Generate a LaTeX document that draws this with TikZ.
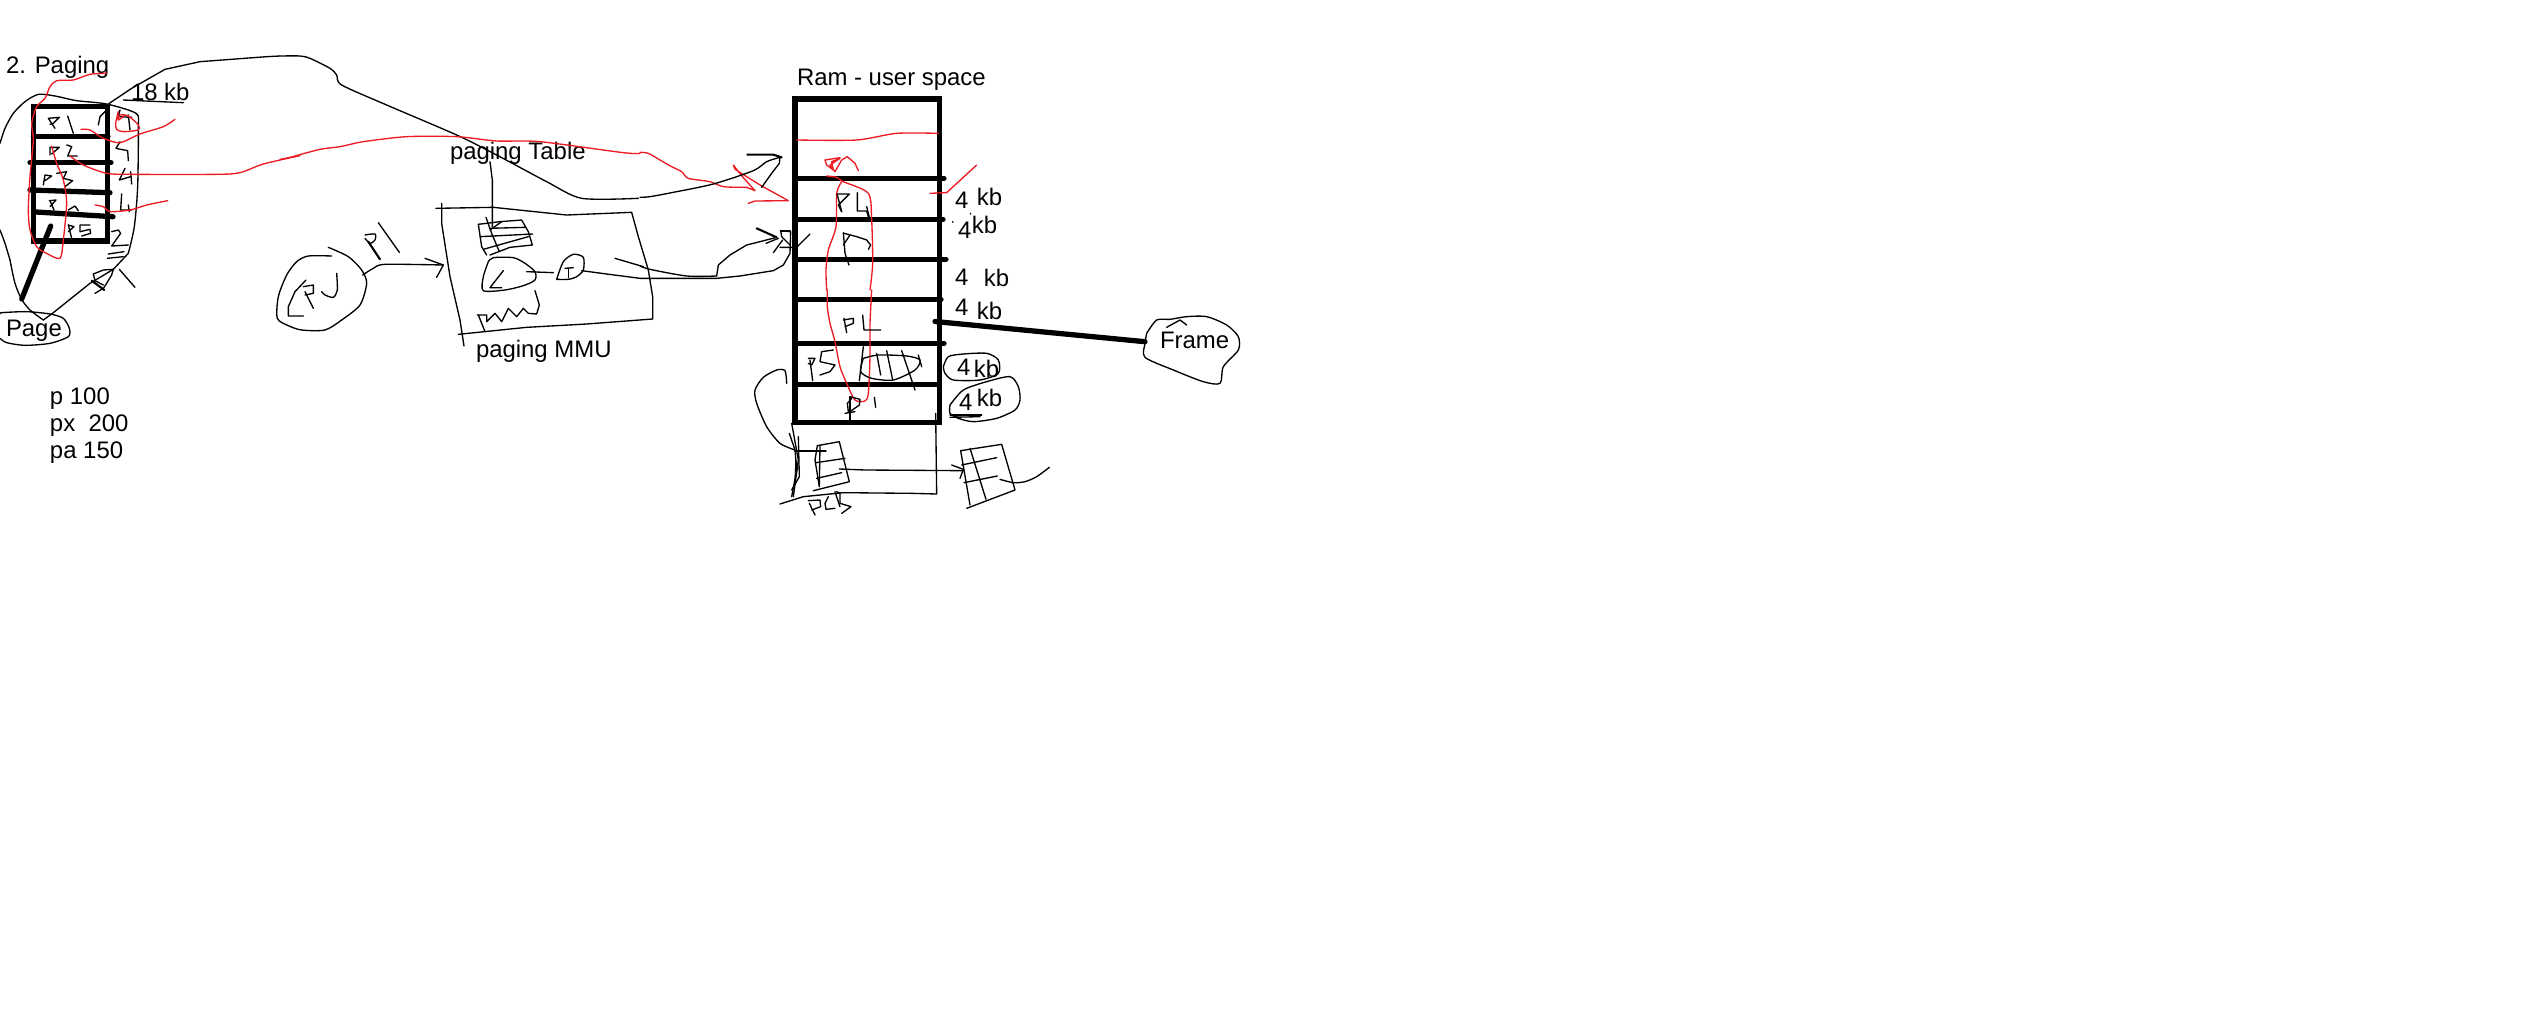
\documentclass[tikz,border=0pt]{standalone}
\usepackage{fontspec}
\setmainfont{Liberation Sans}
\definecolor{pred}{HTML}{ED1C24}
\newlength\pxu
\setlength\pxu{0.2845pt}
\newcommand\fk[2]{4 \kern#1\pxu\raisebox{#2\pxu}{kb}}
\newcommand\pl[2][pen]{\draw[#1] plot coordinates {#2};}
\newcommand\cv[2][pen]{\draw[#1] plot[smooth,tension=.45] coordinates {#2};}
\tikzset{
  pen/.style={draw=black,line width=0.38pt,line join=round,line cap=round},
  redpen/.style={draw=pred,line width=0.38pt,line join=round,line cap=round},
  midpen/.style={draw=black,line width=0.6pt,line join=round,line cap=round},
  heavy/.style={draw=black,line width=1.5pt,line cap=round},
  heavybox/.style={draw=black,line width=1.5pt,line join=miter},
  lbl/.style={anchor=base west,inner sep=0pt,outer sep=0pt,text=black,font=\fontsize{6.8pt}{8pt}\selectfont},
  zm/.style 2 args={shift={(#1,#2)},scale=0.33333}
}
\begin{document}
\begin{tikzpicture}[x=0.01cm,y=-0.01cm]
\fill[white] (0,0) rectangle (2548,1030);
\useasboundingbox (0,0) rectangle (2548,1030);

% ---- thick structures
\draw[heavybox] (33.3,106.3) rectangle (107.7,241);
\draw[heavy] (33.3,136.7) -- (108,136.7);
\draw[heavy] (30,162.7) -- (111,162.7);
\draw[heavy] (30,190) -- (110,192.7);
\draw[heavy] (36,212) -- (113,216.7);
\draw[heavybox] (795,99) rectangle (939.3,422.3);
\draw[heavy] (795,178.3) -- (944,178.3);
\draw[heavy] (795,219.3) -- (943,219.3);
\draw[heavy] (795,259.3) -- (946,259.3);
\draw[heavy] (795,299.3) -- (941,299.3);
\draw[heavy] (795,343.3) -- (944,343.3);
\draw[heavy] (795,384.3) -- (939,384.3);

% ---- labels
\node[lbl] (tpaging) at (6,73) {2. Paging};
\node[lbl] (t18) at (131,100) {18 kb};
\node[lbl] (tpage) at (6,336) {Page};
\node[lbl] (tp) at (50,404) {p 100};
\node[lbl] (tpx) at (50,431) {px\ \ 200};
\node[lbl] (tpa) at (50,458) {pa 150};
\node[lbl] (ttable) at (450,159) {paging Table};
\node[lbl] (tmmu) at (476,357) {paging MMU};
\node[lbl] (tram) at (797,85) {Ram - user space};
\node[lbl] (k1) at (955,208) {\fk{2}{3}};
\node[lbl] (k2) at (958,238) {\fk{-6}{5}};
\node[lbl] (k3) at (955,285) {\fk{9}{-1}};
\node[lbl] (k4) at (955,315) {\fk{2}{-4}};
\node[lbl] (k5) at (957,375) {\fk{-3}{-2}};
\node[lbl] (k6) at (959,410) {\fk{-2}{4}};
\node[lbl] (tframe) at (1160,348) {Frame};

% ---- heavy pointers
\coordinate (pageA) at (50.7,226);
\coordinate (pageB) at (21.7,299);
\draw[heavy] (pageA) -- (pageB);
\coordinate (frameA) at (935,321.5);
\coordinate (frameB) at (1145,341.7);
\draw[heavy] (frameA) -- (frameB);

% ---- zoom A
\begin{scope}[zm={0}{30}]
\cv{(0,340) (15,295) (40,250) (75,215) (115,193) (165,198) (230,212) (320,222) (408,250) (415,290) (413,470) (403,590) (385,670)}
\cv{(0,600) (15,640) (30,690)}
\pl{(325,222) (395,175) (495,118) (600,95) (800,80) (840,78)}
\pl{(370,210) (550,218)}
\pl{(295,285) (300,260) (325,235)}
\pl{(360,240) (355,260) (395,262)}
\pl{(385,255) (390,300)}
\pl{(360,335) (348,355) (383,362) (385,392)}
\pl{(375,415) (358,450) (392,440)}
\pl{(392,425) (395,462)}
\pl{(365,492) (362,540) (395,540)}
\pl{(385,525) (388,545)}
\pl{(335,605) (355,600) (362,610) (335,648) (385,645)}
\pl{(325,672) (372,665)}
\pl{(322,685) (370,680)}
\pl{(145,265) (178,262) (160,280) (150,283)}
\pl{(145,265) (165,295)}
\pl{(203,258) (220,310)}
\pl{(150,375) (150,352) (178,352) (155,372)}
\pl{(200,345) (215,350) (203,378) (232,378)}
\pl{(130,465) (135,435) (155,438) (135,452)}
\pl{(170,430) (200,425) (190,445) (218,452) (195,470)}
\pl{(148,512) (168,510) (150,530)}
\pl{(150,512) (162,540)}
\pl{(205,540) (225,528) (235,542)}
\pl{(205,585) (215,625)}
\pl{(205,585) (222,590) (205,605)}
\pl{(270,585) (240,585) (240,605) (270,598) (272,610) (245,618)}
\cv[redpen]{(355,245) (347,280) (350,298) (370,305) (415,300) (415,285) (385,258) (360,255) (355,270) (372,258)}
\cv[redpen]{(320,130) (270,133) (220,150) (170,152) (150,170) (135,205) (110,230) (95,280) (100,330) (90,440) (85,540) (90,600) (110,650) (140,670) (180,685) (190,630) (200,520) (190,450) (170,400) (155,348)}
\cv[redpen]{(243,298) (270,300) (310,325) (360,338) (420,312) (490,290) (525,268)}
\cv[redpen]{(210,378) (250,405) (320,430) (400,433) (650,433) (720,428) (790,402) (900,377)}
\cv[redpen]{(285,525) (310,530) (330,545) (390,540) (440,525) (503,512)}
\end{scope}

% ---- zoom B
\begin{scope}[zm={0}{260}]
\cv{(30,0) (45,70) (65,118) (90,150) (130,180)}
\pl{(130,180) (155,162) (270,70) (340,28) (385,-20)}
\cv{(0,162) (5,158) (80,155) (150,162) (190,175) (208,205) (205,230) (150,250) (75,256) (20,248) (0,235)}
\pl{(280,42) (310,30) (340,28) (335,45) (320,70) (310,85) (285,100)}
\pl{(280,42) (285,62) (310,75)}
\draw[midpen] (275,62) -- (313,90);
\pl{(358,28) (405,82)}
\end{scope}

% ---- zoom C
\begin{scope}[zm={260}{120}]
\pl{(690,125) (697,180) (697,320)}
\pl{(528,265) (700,262) (920,285) (1115,277) (1135,350) (1165,450) (1178,530) (1178,597) (980,612) (800,622) (595,643)}
\pl{(545,250) (545,310) (570,470) (600,600) (612,678)}
\pl{(655,313) (720,305) (785,300) (805,335) (817,375) (750,382) (690,405)}
\pl{(655,313) (665,380) (680,405)}
\pl{(678,292) (695,340) (718,395)}
\pl{(660,350) (818,342)}
\pl{(690,330) (725,305)}
\pl{(688,325) (795,322)}
\pl{(670,388) (805,350)}
\cv{(685,425) (670,470) (670,512) (735,510) (790,497) (825,480) (825,455) (795,430) (760,413) (700,413) (685,425)}
\pl{(730,452) (690,503) (725,503)}
\pl{(800,455) (880,458)}
\cv{(890,478) (910,425) (940,403) (970,412) (970,450) (950,470) (925,478) (890,478)}
\pl{(915,445) (940,443)}
\pl{(925,445) (925,473)}
\pl{(655,585) (675,635)}
\pl{(652,585) (680,585) (680,605) (705,580) (725,605) (745,565) (770,590) (790,565) (805,580) (830,582) (838,555) (825,512)}
\cv{(215,408) (145,408) (110,425) (80,465) (55,530) (52,595) (85,617) (125,630) (195,630) (245,600) (300,555) (320,490) (305,450) (265,410) (205,382)}
\pl{(138,480) (105,515) (85,560) (85,588) (130,588)}
\pl{(130,500) (160,495) (160,520) (135,525)}
\pl{(135,515) (160,565)}
\cv{(230,460) (232,510) (220,532) (195,525) (185,515)}
\cv{(308,465) (340,445) (375,433) (550,435)}
\pl{(495,415) (550,435) (530,472)}
\cv{(315,345) (345,342) (345,360) (330,370) (315,355)}
\draw[midpen] (325,365) -- (360,418);
\pl{(355,308) (418,397)}
\pl{(1065,415) (1150,440)}
\pl{(965,452) (1040,462) (1140,475)}
\end{scope}

% ---- zoom 7
\begin{scope}[zm={280}{40}]
\cv{(0,48) (60,48) (90,55) (150,85) (170,105) (185,135) (320,195) (530,285) (650,345) (800,425) (905,475) (1075,475)}
\cv[redpen]{(0,358) (30,352) (120,328) (180,320) (250,305) (380,290) (530,290) (650,303) (780,305) (1030,338) (1080,340)}
\end{scope}

% ---- zoom 8
\begin{scope}[zm={640}{130}]
\cv[redpen]{(0,67) (25,70) (60,90) (95,110) (125,125) (145,145) (210,155) (250,170) (320,172)}
\pl[redpen]{(320,172) (345,182) (303,135) (280,105) (285,118) (365,168) (445,212) (345,213) (325,220)}
\cv{(0,202) (30,200) (100,187) (220,162) (340,122) (380,95) (420,82)}
\draw[midpen] (322,74) -- (400,74) -- (425,82);
\pl{(420,82) (418,100) (395,130) (365,172)}
\cv{(0,408) (30,418) (140,438) (230,438)}
\pl{(230,438) (235,405) (270,375) (320,345) (360,335) (410,322)}
\pl{(0,445) (230,445) (300,438) (400,422) (430,405) (450,370) (452,305) (422,302)}
\draw[midpen] (422,302) -- (450,302);
\pl{(422,302) (425,320) (450,345)}
\draw[midpen] (350,295) -- (410,322);
\pl{(378,340) (415,325)}
\pl{(400,368) (428,330)}
\pl{(420,352) (470,352) (510,312)}
\end{scope}

% ---- zoom D
\begin{scope}[zm={650}{50}]
\cv[redpen]{(440,270) (620,270) (740,250) (865,250)}
\pl[redpen]{(525,330) (530,345) (550,360) (545,335) (570,325) (540,345) (555,365) (575,330) (592,320) (615,340) (625,362)}
\pl[redpen]{(525,330) (570,323)}
\cv[redpen]{(530,378) (560,382) (580,395) (655,430) (665,510) (668,640) (660,720)}
\cv[redpen]{(575,395) (560,430) (558,530) (535,600) (528,660) (530,720)}
\pl[redpen]{(840,430) (890,428) (980,345)}
\pl{(560,432) (598,432) (565,465) (575,485)}
\pl{(562,435) (575,485)}
\pl{(622,428) (622,483) (650,483) (655,500)}
\pl{(650,470) (660,510)}
\pl{(580,548) (585,610) (597,645)}
\pl{(582,550) (620,560) (650,570) (662,585) (655,598)}
\pl{(600,555) (580,585)}
\pl{(908,515) (909,517)}
\pl{(961,490) (962,492)}
\end{scope}

% ---- zoom E
\begin{scope}[zm={740}{290}]
\cv[redpen]{(395,0) (390,100) (390,200) (385,310) (375,333) (345,330) (320,280) (300,230) (285,155) (270,100) (262,50) (262,0)}
\pl{(310,90) (340,85) (340,100) (315,110)}
\pl{(312,85) (320,128)}
\pl{(368,75) (372,120) (422,120)}
\pl{(205,205) (225,205) (215,225) (205,220)}
\pl{(210,210) (218,272)}
\pl{(280,180) (245,185) (240,215) (285,225) (270,245) (240,255)}
\cv{(370,205) (415,195) (500,198) (540,210) (525,240) (460,270) (395,265) (362,245) (370,205)}
\pl{(370,170) (358,272)}
\pl{(410,190) (422,255)}
\pl{(440,182) (458,270)}
\pl{(485,182) (525,300)}
\pl{(535,195) (545,230)}
\pl{(335,325) (322,340) (325,365)}
\pl{(330,320) (360,328) (358,345) (330,365)}
\pl{(330,320) (330,390)}
\pl{(315,370) (345,365)}
\pl{(403,322) (407,352)}
\cv{(140,280) (135,242) (110,240) (70,262) (45,300) (50,340) (80,410) (120,460) (165,480)}
\pl{(165,483) (258,483)}
\pl{(155,400) (175,510) (160,620)}
\pl{(148,430) (165,480) (170,540) (155,620)}
\pl{(175,440) (178,560) (155,600)}
\pl{(168,510) (165,580)}
\pl{(120,642) (190,620) (310,608) (515,610) (590,612) (587,370)}
\pl{(232,467) (298,455) (328,575) (220,602)}
\pl{(232,467) (225,510) (238,590)}
\pl{(240,465) (238,585)}
\pl{(228,518) (315,505)}
\pl{(230,565) (305,548)}
\pl{(298,537) (375,540) (670,542)}
\pl{(635,525) (670,538) (660,565)}
\pl{(205,632) (240,630) (242,650) (215,660)}
\pl{(208,640) (225,675)}
\pl{(265,620) (255,640) (258,658) (285,655)}
\pl{(285,605) (300,650)}
\pl{(290,605) (300,610) (300,640) (333,650) (305,670)}
\pl{(662,482) (785,463) (825,600) (680,655)}
\pl{(662,482) (690,645)}
\pl{(690,475) (738,628)}
\pl{(665,525) (770,503)}
\pl{(672,578) (772,558)}
\cv{(780,568) (820,578) (855,575) (890,560) (928,532)}
\end{scope}

% ---- zoom F
\begin{scope}[zm={930}{170}]
\cv{(40,590) (55,560) (100,552) (170,550) (205,570) (205,610) (150,630) (70,630) (45,610) (40,590)}
\cv{(60,705) (100,660) (170,635) (240,620) (265,650) (270,690) (255,720) (200,745) (130,755) (85,745) (60,730) (60,705)}
\pl{(60,735) (155,735)}
\pl{(60,742) (150,740)}
\pl{(75,738) (90,745)}
\cv{(650,490) (680,450) (720,448) (770,440) (830,440) (890,465) (925,500) (925,540) (880,590) (870,640) (820,635) (730,600) (645,562) (645,520) (650,490)}
\pl{(710,472) (750,450) (770,465)}
\end{scope}
\end{tikzpicture}
\end{document}
